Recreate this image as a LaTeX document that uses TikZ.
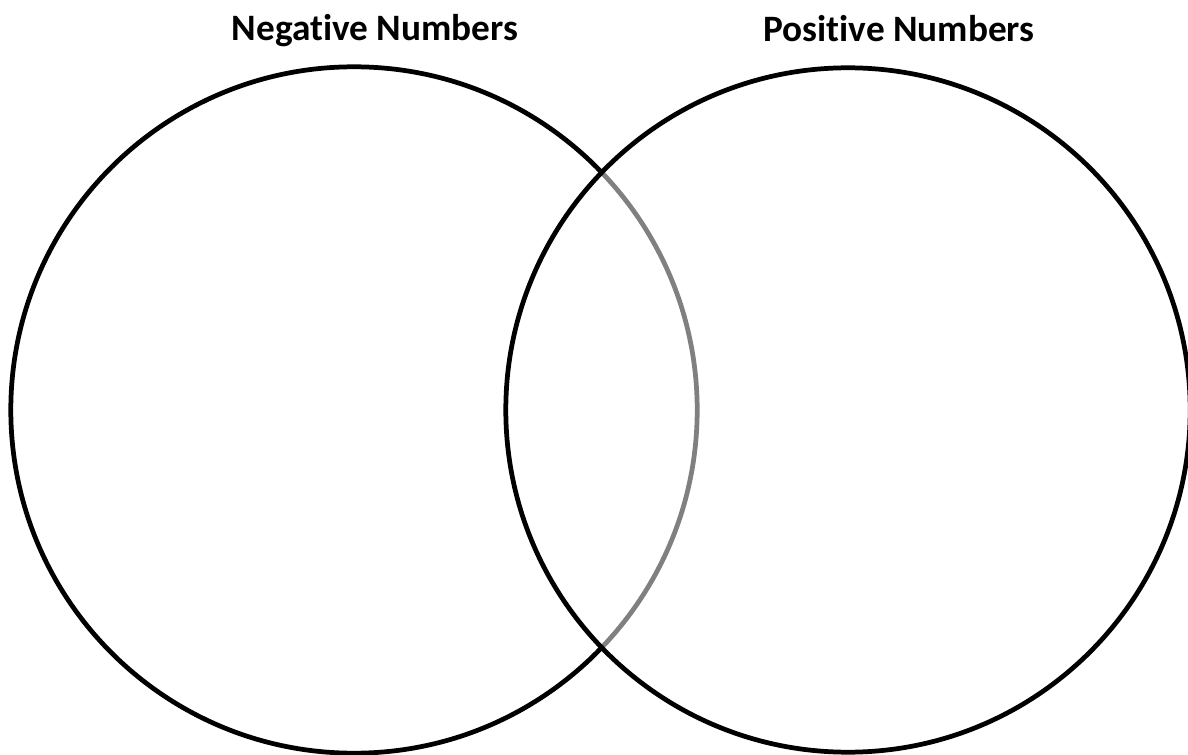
\documentclass[tikz,border=0pt]{standalone}
\usepackage{fontspec}
\setmainfont[Ligatures=NoCommon]{Carlito}
\usetikzlibrary{positioning}

\tikzset{
  setcircle/.style={circle, draw=black, line width=1.35pt, inner sep=0pt},
  settitle/.style={font=\fontsize{10.6}{12}\selectfont\bfseries, inner sep=0pt}
}

\begin{document}
\begin{tikzpicture}[x=0.01cm, y=-0.01cm]
  \useasboundingbox (0,0) rectangle (1188,755);
  % negative set
  \node[setcircle, minimum size=6.86cm] (negset) at (354,410) {};
  % positive set, half-transparent so the left arc shows grey
  \node[setcircle, minimum size=6.84cm, fill=white, fill opacity=0.5, draw opacity=1] (posset) at (848,410) {};
  % titles
  \node[settitle] (negtitle) at (375,31) {Negative Numbers};
  \node[settitle] (postitle) at (899,29) {Positive Numbers};
\end{tikzpicture}
\end{document}
